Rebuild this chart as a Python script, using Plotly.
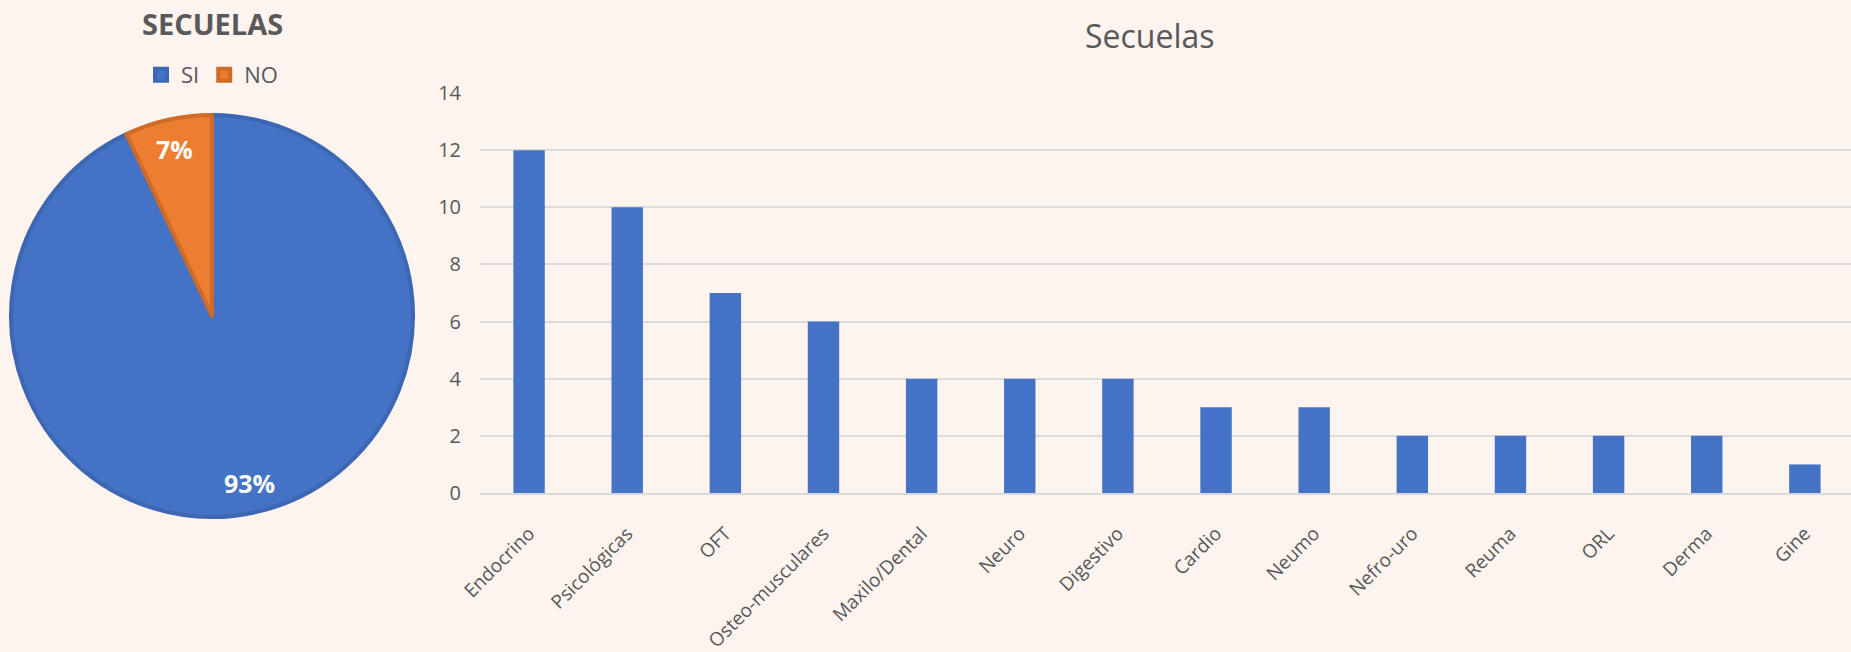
import math
import plotly.graph_objects as go

W, H = 1851, 652

# ---- data ----
pie_labels = ["SI", "NO"]
pie_values = [93, 7]
pie_text = ["93%", "7%"]

categories = ["Endocrino", "Psicológicas", "OFT", "Osteo-musculares", "Maxilo/Dental",
              "Neuro", "Digestivo", "Cardio", "Neumo", "Nefro-uro", "Reuma", "ORL",
              "Derma", "Gine"]
counts = [12, 10, 7, 6, 4, 4, 4, 3, 3, 2, 2, 2, 2, 1]
y_ticks = [0, 2, 4, 6, 8, 10, 12, 14]

BG = "#FDF3EF"
BLUE = "#4472C4"
ORANGE = "#ED7D31"
GREY = "#595959"
FONT = "Open Sans"

# pixel helpers -> paper fractions
def px(x):
    return x / W

def py(y):
    return 1 - y / H

# pie geometry (pixels)
pie_left, pie_right, pie_top, pie_bottom = 11, 413, 115, 517
cx = (pie_left + pie_right) / 2
cy = (pie_top + pie_bottom) / 2
R = (pie_right - pie_left) / 2

fig = go.Figure()

fig.add_trace(go.Pie(
    labels=pie_labels, values=pie_values, sort=False, direction="clockwise",
    rotation=0, textinfo="none", hoverinfo="label+percent",
    marker=dict(colors=[BLUE, ORANGE], line=dict(color=["#3D66B3", "#D06A27"], width=4)),
    domain=dict(x=[px(pie_left), px(pie_right)], y=[py(pie_bottom), py(pie_top)]),
    showlegend=True,
))

# pie labels along each slice's mid-angle
total = sum(pie_values)
cum = 0
annotations = []
for v, t in zip(pie_values, pie_text):
    mid = (cum + v / 2) / total * 2 * math.pi
    cum += v
    lx = cx + 0.85 * R * math.sin(mid)
    ly = cy - 0.85 * R * math.cos(mid)
    annotations.append(dict(x=px(lx), y=py(ly), xref="paper", yref="paper", text=t,
                            showarrow=False, xanchor="center", yanchor="middle",
                            font=dict(family=FONT, size=25, color="white", weight="bold")))

annotations.append(dict(x=px(212), y=py(23), xref="paper", yref="paper", text="<b>SECUELAS</b>",
                        showarrow=False, xanchor="center", yanchor="middle",
                        font=dict(family=FONT, size=29, color=GREY)))
annotations.append(dict(x=px(1150), y=py(35), xref="paper", yref="paper", text="Secuelas",
                        showarrow=False, xanchor="center", yanchor="middle",
                        font=dict(family=FONT, size=32, color=GREY)))

fig.add_trace(go.Bar(
    x=categories, y=counts, marker=dict(color=BLUE, line=dict(width=0)),
    showlegend=False, xaxis="x", yaxis="y",
))

fig.update_layout(
    width=W, height=H,
    margin=dict(l=0, r=0, t=0, b=0, autoexpand=False),
    paper_bgcolor=BG, plot_bgcolor=BG,
    font=dict(family=FONT, color=GREY),
    bargap=0.68,
    annotations=annotations,
    legend=dict(orientation="h", x=px(212), y=py(75), xanchor="center", yanchor="middle",
                font=dict(family=FONT, size=22, color=GREY), bgcolor="rgba(0,0,0,0)",
                itemwidth=30, traceorder="normal"),
    xaxis=dict(domain=[px(480), 1.0], range=[-0.5, 13.47], type="category",
               tickangle=-45, tickfont=dict(family=FONT, size=19, color=GREY),
               showgrid=False, showline=True, linecolor="#D9D9D9", linewidth=2,
               ticks="", ticklabelstandoff=20, fixedrange=True, automargin=False),
    yaxis=dict(domain=[py(493), py(93)], range=[0, 14], tickvals=y_ticks,
               tickfont=dict(family=FONT, size=20, color=GREY),
               showgrid=True, gridcolor="#DCDCDC", gridwidth=2,
               zeroline=False, showline=False, ticks="", ticklabelstandoff=18,
               fixedrange=True, automargin=False),
)

fig.write_html("out.html")
